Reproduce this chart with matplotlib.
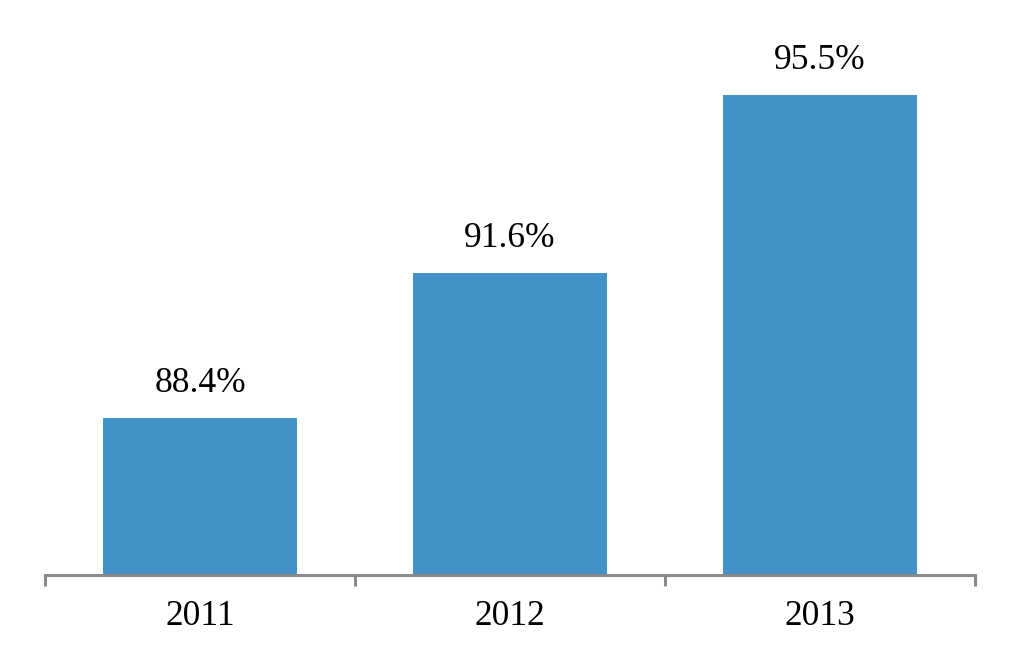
import numpy as np
import matplotlib
matplotlib.use('Agg')
from matplotlib import pyplot as plt

years = ['2011', '2012', '2013']
rates = [88.4, 91.6, 95.5]
labels = ['88.4%', '91.6%', '95.5%']

plt.rcParams['font.family'] = ['Liberation Serif', 'DejaVu Serif']

fig = plt.figure(figsize=(10.2, 6.6), dpi=100)
ax = fig.add_axes([45 / 1020, 85 / 660, 930 / 1020, 575 / 660])

x = np.arange(len(years))
ax.bar(x, rates, width=0.626, color='#4292C9', zorder=2)

for xi, v, lab in zip(x, rates, labels):
    ax.annotate(lab, (xi, v), xytext=(0, 13), textcoords='offset points',
                ha='center', va='bottom', fontsize=25.5)

ax.set_xlim(-0.5, 2.5)
ax.set_ylim(84.95, 97.6)

for s in ['top', 'right', 'left']:
    ax.spines[s].set_visible(False)
ax.spines['bottom'].set_color('#898989')
ax.spines['bottom'].set_linewidth(2.2)

ax.set_yticks([])
ax.set_xticks(x)
ax.set_xticklabels(years, fontsize=25.5)
ax.tick_params(axis='x', which='major', length=0, pad=18)
ax.set_xticks([-0.5, 0.5, 1.5, 2.5], minor=True)
ax.tick_params(axis='x', which='minor', length=8, width=2.2, color='#898989',
               direction='out')

fig.savefig('out.png', dpi=100)
